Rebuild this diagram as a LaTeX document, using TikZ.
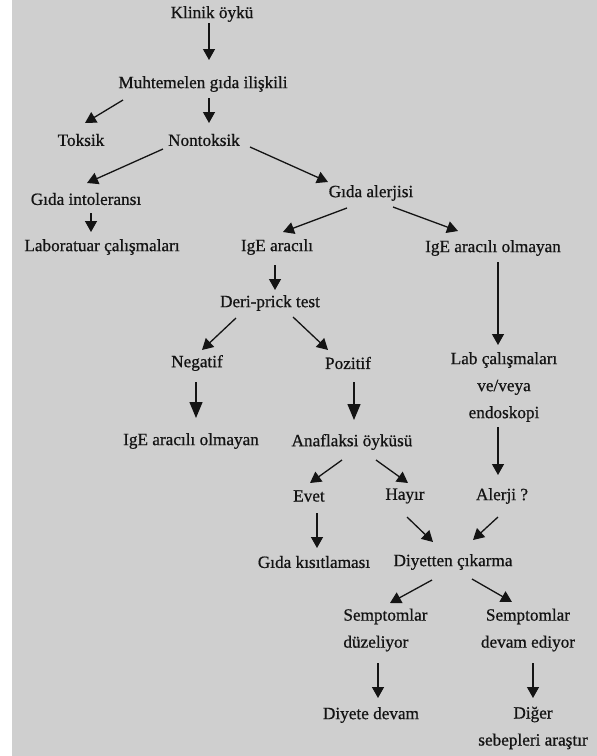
\documentclass[tikz,border=0pt]{standalone}
\usepackage{fontspec}
\setmainfont{Liberation Serif}[FakeBold=0.7]
\usetikzlibrary{arrows.meta, calc}
\definecolor{bggrey}{RGB}{207,207,207}
\definecolor{ink}{RGB}{20,20,20}

\begin{document}
\begin{tikzpicture}[x=0.5pt, y=-0.5pt,
  lbl/.style={inner sep=0pt, text=ink, font=\fontsize{8.6}{13.5}\selectfont},
  arr/.style={ink, line width=0.65pt, -{Triangle[length=5.5pt, width=6pt]}},
  bigarr/.style={ink, line width=0.65pt, -{Triangle[length=8pt, width=6.5pt]}}]
\useasboundingbox (0,0) rectangle (597,756);
\fill[bggrey] (12,0) rectangle (597,756);

% labels
\node[lbl] (klinik) at (212,14) {Klinik öykü};
\node[lbl] (muh) at (203,84) {Muhtemelen gıda ilişkili};
\node[lbl] (toksik) at (81,140) {Toksik};
\node[lbl] (nontoksik) at (204,140) {Nontoksik};
\node[lbl] (gidaint) at (86,199) {Gıda intoleransı};
\node[lbl] (labcal) at (102,247) {Laboratuar çalışmaları};
\node[lbl] (gidaalerj) at (371,193) {Gıda alerjisi};
\node[lbl] (igea) at (277,247) {IgE aracılı};
\node[lbl] (igeao) at (493,248) {IgE aracılı olmayan};
\node[lbl] (deri) at (270,303) {Deri-prick test};
\node[lbl] (negatif) at (197,363) {Negatif};
\node[lbl] (pozitif) at (348,363) {Pozitif};
\node[lbl] (igeaotwo) at (191,441) {IgE aracılı olmayan};
\node[lbl] (anaf) at (352,442) {Anaflaksi öyküsü};
\node[lbl, align=center] (labc) at (504,387) {Lab çalışmaları\\ve/veya\\endoskopi};
\node[lbl] (evet) at (309,496) {Evet};
\node[lbl] (hayir) at (405,496) {Hayır};
\node[lbl] (alerji) at (502,496) {Alerji ?};
\node[lbl] (gidakis) at (314,562) {Gıda kısıtlaması};
\node[lbl] (diyet) at (453,562) {Diyetten çıkarma};
\node[lbl, align=left, anchor=west] (sempone) at (343,630) {Semptomlar\\düzeliyor};
\node[lbl, align=center] (semptwo) at (528,630) {Semptomlar\\devam ediyor};
\node[lbl] (diyetedevam) at (371,715) {Diyete devam};
\node[lbl, align=center] (diger) at (533,728) {Diğer\\sebepleri araştır};

% arrows
\draw[arr] ($(klinik)+(-3,9)$) -- ($(muh)+(6,-24)$);
\draw[arr] ($(muh)+(-80,16)$) -- ($(toksik)+(4,-17)$);
\draw[arr] ($(muh)+(6,14)$) -- ($(nontoksik)+(5,-17)$);
\draw[arr] ($(nontoksik)+(-41,9)$) -- ($(gidaint)+(1,-16)$);
\draw[arr] ($(nontoksik)+(46,7)$) -- ($(gidaalerj)+(-43,-11)$);
\draw[arr] ($(gidaint)+(5,14)$) -- ($(labcal)+(-11,-15)$);
\draw[arr] ($(gidaalerj)+(-24,15)$) -- ($(igea)+(6,-15)$);
\draw[arr] ($(gidaalerj)+(22,14)$) -- ($(igeao)+(-35,-17)$);
\draw[arr] ($(igea)+(-2,18)$) -- ($(deri)+(5,-13)$);
\draw[arr] ($(deri)+(-34,15)$) -- ($(negatif)+(5,-13)$);
\draw[arr] ($(deri)+(23,14)$) -- ($(pozitif)+(-20,-13)$);
\draw[bigarr] ($(negatif)+(-1,19)$) -- ($(igeaotwo)+(5,-23)$);
\draw[bigarr] ($(pozitif)+(6,19)$) -- ($(anaf)+(2,-22)$);
\draw[arr] ($(anaf)+(-10,18)$) -- ($(evet)+(1,-13)$);
\draw[arr] ($(anaf)+(24,18)$) -- ($(hayir)+(3,-13)$);
\draw[arr] ($(igeao)+(5,14)$) -- ($(labc)+(-6,-42)$);
\draw[arr] ($(labc)+(-6,40)$) -- ($(alerji)+(-4,-21)$);
\draw[arr] ($(evet)+(8,17)$) -- ($(gidakis)+(3,-14)$);
\draw[arr] ($(hayir)+(2,21)$) -- ($(diyet)+(-20,-20)$);
\draw[arr] ($(alerji)+(-4,21)$) -- ($(diyet)+(20,-22)$);
\draw[arr] ($(diyet)+(-21,18)$) -- ($(sempone.west)+(47,-27)$);
\draw[arr] ($(diyet)+(19,17)$) -- ($(semptwo)+(-16,-28)$);
\draw[arr] ($(sempone.west)+(35,33)$) -- ($(diyetedevam)+(7,-17)$);
\draw[arr] ($(semptwo)+(5,33)$) -- ($(diger)+(0,-30)$);

\end{tikzpicture}
\end{document}
